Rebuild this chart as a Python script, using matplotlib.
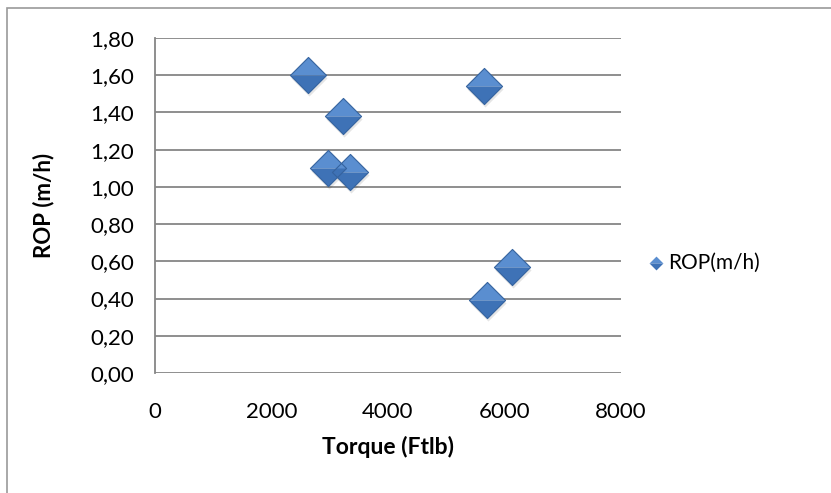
import matplotlib.pyplot as plt
import matplotlib.transforms as mtransforms
from matplotlib.path import Path
from matplotlib.patches import Rectangle
from matplotlib.ticker import FuncFormatter

torque = [2630, 3230, 2970, 3350, 5650, 6130, 5700]
rop = [1.60, 1.38, 1.10, 1.08, 1.54, 0.57, 0.39]
x_ticks = [0, 2000, 4000, 6000, 8000]
y_ticks = [0.0, 0.2, 0.4, 0.6, 0.8, 1.0, 1.2, 1.4, 1.6, 1.8]

plt.rcParams['font.family'] = ['Lato', 'DejaVu Sans']

# diamond split into a lighter top and darker bottom half
top_half = Path([(-1, 0), (0, 1), (1, 0), (-1, 0)], [1, 2, 2, 79])
bottom_half = Path([(-1, 0), (1, 0), (0, -1), (-1, 0)], [1, 2, 2, 79])
diamond = Path([(-1, 0), (0, 1), (1, 0), (0, -1), (-1, 0)], [1, 2, 2, 2, 79])

fig = plt.figure(figsize=(8.31, 4.93), dpi=100)
ax = fig.add_axes([0.1865, 0.2434, 0.5608, 0.6795])

msize = 26
shadow = ax.transData + mtransforms.ScaledTranslation(1 / 100, -3 / 100, fig.dpi_scale_trans)
ax.plot(torque, rop, linestyle='none', marker=diamond, markersize=msize,
        markerfacecolor='#000000', markeredgewidth=0, alpha=0.10,
        transform=shadow, zorder=2)
ax.plot(torque, rop, linestyle='none', marker=top_half, markersize=msize,
        markerfacecolor='#5A8ED0', markeredgewidth=0, zorder=3)
ax.plot(torque, rop, linestyle='none', marker=bottom_half, markersize=msize,
        markerfacecolor='#3E72B6', markeredgewidth=0, zorder=3)
ax.plot(torque, rop, linestyle='none', marker=diamond, markersize=msize,
        markerfacecolor='none', markeredgecolor='#35639F', markeredgewidth=0.8,
        zorder=4)

ax.set_xlim(0, 8000)
ax.set_ylim(0, 1.8)
ax.set_xticks(x_ticks)
ax.set_yticks(y_ticks)
ax.yaxis.set_major_formatter(FuncFormatter(lambda v, p: f"{v:.2f}".replace('.', ',')))
ax.tick_params(length=0, labelsize=16, pad=15)
ax.tick_params(axis='x', pad=21)

ax.grid(axis='y', color='#868686', linewidth=1.3)
ax.set_axisbelow(True)
for s in ['top', 'right', 'bottom']:
    ax.spines[s].set_visible(False)
ax.spines['left'].set_color('#868686')
ax.spines['left'].set_linewidth(1.3)

ax.set_xlabel('Torque (Ftlb)', fontsize=16.5, fontweight='bold', labelpad=10)
ax.set_ylabel('ROP (m/h)', fontsize=16, fontweight='bold', labelpad=26)

# legend
fig.text(668 / 831, 1 - 263 / 493, 'ROP(m/h)', fontsize=15, va='center', ha='left')
lx, ly = 656 / 831, 1 - 263 / 493
fig.add_artist(plt.Line2D([lx], [ly], marker=top_half, markersize=10,
                          markerfacecolor='#5A8ED0', markeredgewidth=0, linestyle='none'))
fig.add_artist(plt.Line2D([lx], [ly], marker=bottom_half, markersize=10,
                          markerfacecolor='#3E72B6', markeredgewidth=0, linestyle='none'))

# chart area border
fig.add_artist(Rectangle((7 / 831, -0.1), 1.2, 1 - 8 / 493 + 0.1, transform=fig.transFigure,
                         fill=False, edgecolor='#9A9A9A', linewidth=1.2))

fig.savefig('out.png', dpi=100)
